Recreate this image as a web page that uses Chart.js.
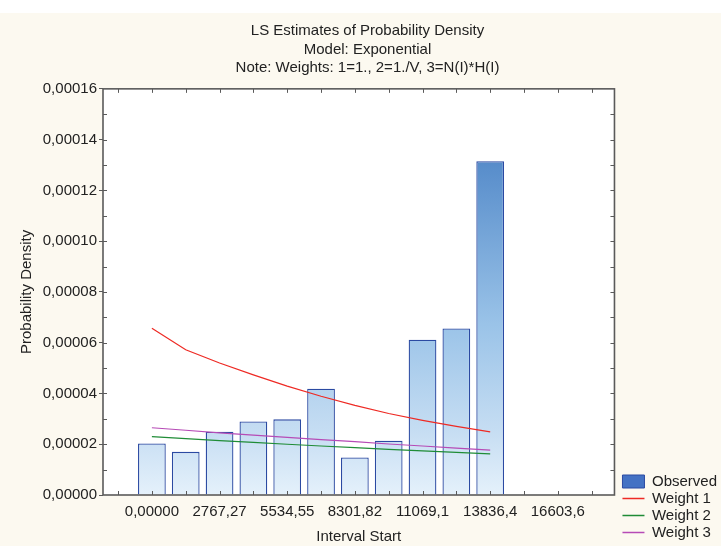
<!DOCTYPE html>
<html>
<head>
<meta charset="utf-8">
<script src="https://cdn.jsdelivr.net/npm/chart.js@4/dist/chart.umd.min.js"></script>
<style>
  html, body { margin: 0; padding: 0; background: #ffffff; }
  #wrap { width: 721px; height: 546px; }
</style>
</head>
<body>
<div id="wrap"><canvas id="c" width="721" height="546"></canvas></div>
<script>
// Interval starts (lower bound of each life-table interval)
const intervalStarts = [0, 1383.64, 2767.27, 4150.91, 5534.55, 6918.18, 8301.82, 9685.46, 11069.1, 12452.7, 13836.4];
// Observed probability density per interval
const observed = [2.03e-5, 1.70e-5, 2.49e-5, 2.90e-5, 2.98e-5, 4.19e-5, 1.48e-5, 2.14e-5, 6.12e-5, 6.56e-5, 1.315e-4];
// Least-squares exponential fits for the three weightings
const weight1 = [6.57e-5, 5.72e-5, 5.20e-5, 4.73e-5, 4.29e-5, 3.89e-5, 3.53e-5, 3.21e-5, 2.94e-5, 2.70e-5, 2.49e-5];
const weight2 = [2.30e-5, 2.22e-5, 2.14e-5, 2.07e-5, 2.00e-5, 1.93e-5, 1.87e-5, 1.80e-5, 1.74e-5, 1.68e-5, 1.62e-5];
const weight3 = [2.65e-5, 2.55e-5, 2.45e-5, 2.36e-5, 2.27e-5, 2.18e-5, 2.10e-5, 2.01e-5, 1.93e-5, 1.85e-5, 1.77e-5];

const seriesNames = ['Observed', 'Weight 1', 'Weight 2', 'Weight 3'];
const xTickValues = [0, 2767.27, 5534.55, 8301.82, 11069.1, 13836.4, 16603.6];
const xTickLabels = ['0,00000', '2767,27', '5534,55', '8301,82', '11069,1', '13836,4', '16603,6'];
const yTickLabels = ['0,00000', '0,00002', '0,00004', '0,00006', '0,00008', '0,00010', '0,00012', '0,00014', '0,00016'];
const titleLines = ['LS Estimates of Probability Density', 'Model: Exponential', 'Note: Weights: 1=1., 2=1./V, 3=N(I)*H(I)'];

const FONT = "'Liberation Sans', Arial, Helvetica, sans-serif";
const FS = 15;
const TEXT = '#222222';
const CREAM = '#fcf9f0';
const FRAME = '#5a5a5a';
const lineColors = ['#ee2a24', '#1f8c36', '#b64bb6'];

const binWidth = intervalStarts[1] - intervalStarts[0];
const pts = (ys) => ys.map((y, i) => ({ x: intervalStarts[i], y }));

let barGradient = null;
function barFill(ctx) {
  const chart = ctx.chart;
  const a = chart.chartArea;
  if (!a) return '#9cc1e6';
  if (!barGradient) {
    const g = chart.ctx.createLinearGradient(0, a.top, 0, a.bottom);
    g.addColorStop(0.0, '#3a68b2');
    g.addColorStop(0.2, '#5a8fcc');
    g.addColorStop(0.58, '#9ac3e8');
    g.addColorStop(0.85, '#c7def3');
    g.addColorStop(1.0, '#e5f1fb');
    barGradient = g;
  }
  return barGradient;
}

// Cream page with a white strip on top, white plotting area
const backdrop = {
  id: 'backdrop',
  beforeDraw(chart) {
    const { ctx, width, height, chartArea: a } = chart;
    ctx.save();
    ctx.fillStyle = CREAM;
    ctx.fillRect(0, 0, width, height);
    ctx.fillStyle = '#ffffff';
    ctx.fillRect(0, 0, width, 13);
    ctx.fillRect(a.left, a.top, a.right - a.left, a.bottom - a.top);
    ctx.restore();
  }
};

// Nudge the legend block a little right and up, leaving a gap beside the plot
const legendNudge = {
  id: 'legendNudge',
  afterLayout(chart) {
    const lg = chart.legend;
    if (!lg) return;
    lg.left += 6; lg.right += 6;
    lg.top -= 4; lg.bottom -= 4;
  }
};

// Box frame around the plot with short inward tick marks on every side
const frame = {
  id: 'frame',
  afterDraw(chart) {
    const { ctx, chartArea: a, scales } = chart;
    ctx.save();
    ctx.strokeStyle = FRAME;
    ctx.lineWidth = 1;
    ctx.beginPath();
    for (let k = -1; k <= 13; k++) {
      const px = Math.round(scales.x.getPixelForValue(k * binWidth)) + 0.5;
      if (px < a.left || px > a.right) continue;
      ctx.moveTo(px, a.top); ctx.lineTo(px, a.top + 4);
      ctx.moveTo(px, a.bottom); ctx.lineTo(px, a.bottom - 4);
    }
    for (let k = 1; k < 16; k++) {
      const py = Math.round(scales.y.getPixelForValue(k * 1e-5)) + 0.5;
      ctx.moveTo(a.left, py); ctx.lineTo(a.left + 4, py);
      ctx.moveTo(a.right, py); ctx.lineTo(a.right - 4, py);
    }
    ctx.stroke();
    ctx.lineWidth = 1.6;
    ctx.strokeRect(a.left, a.top, a.right - a.left, a.bottom - a.top);
    ctx.restore();
  }
};

new Chart(document.getElementById('c'), {
  type: 'bar',
  data: {
    datasets: [
      {
        label: seriesNames[0],
        data: pts(observed),
        backgroundColor: barFill,
        borderColor: '#2b4aa2',
        borderWidth: 1.3,
        barPercentage: 0.82,
        categoryPercentage: 1.0,
        order: 2
      },
      { type: 'line', label: seriesNames[1], data: pts(weight1), borderColor: lineColors[0], borderWidth: 1.2, pointRadius: 0, tension: 0, fill: false, order: 1 },
      { type: 'line', label: seriesNames[2], data: pts(weight2), borderColor: lineColors[1], borderWidth: 1.2, pointRadius: 0, tension: 0, fill: false, order: 1 },
      { type: 'line', label: seriesNames[3], data: pts(weight3), borderColor: lineColors[2], borderWidth: 1.2, pointRadius: 0, tension: 0, fill: false, order: 1 }
    ]
  },
  options: {
    responsive: false,
    animation: false,
    devicePixelRatio: 1,
    layout: { padding: { left: 14, right: 0, top: 0, bottom: 0 } },
    scales: {
      x: {
        type: 'linear',
        min: -2000,
        max: 18920,
        offset: false,
        grid: { display: false, drawTicks: false, offset: false },
        border: { display: false },
        afterBuildTicks(scale) {
          scale.ticks = xTickValues.map(v => ({ value: v }));
        },
        afterFit(scale) { scale.height = 51; },
        ticks: {
          autoSkip: false,
          maxRotation: 0,
          padding: 8,
          color: TEXT,
          font: { family: FONT, size: FS },
          callback: (v, i) => xTickLabels[i]
        },
        title: {
          display: true,
          text: 'Interval Start',
          color: TEXT,
          font: { family: FONT, size: FS },
          padding: { top: 0, bottom: 0 }
        }
      },
      y: {
        min: 0,
        max: 0.00016,
        grid: { display: true, drawOnChartArea: false, drawTicks: true, tickLength: 4, color: FRAME },
        border: { display: false },
        afterFit(scale) { scale.width = 89; },
        ticks: {
          stepSize: 0.00002,
          padding: 2,
          color: TEXT,
          font: { family: FONT, size: FS },
          callback: (v, i) => yTickLabels[i]
        },
        title: {
          display: true,
          text: 'Probability Density',
          color: TEXT,
          font: { family: FONT, size: FS },
          padding: { top: 4, bottom: 0 }
        }
      }
    },
    plugins: {
      title: {
        display: true,
        text: titleLines,
        color: TEXT,
        font: { family: FONT, size: FS, weight: 'normal', lineHeight: 1.23 },
        padding: { top: 21.75, bottom: 11.75 }
      },
      legend: {
        position: 'right',
        align: 'end',
        labels: {
          color: TEXT,
          font: { family: FONT, size: FS },
          usePointStyle: true,
          pointStyleWidth: 22,
          boxHeight: 13,
          padding: 2,
          generateLabels() {
            return seriesNames.map((name, i) => i === 0
              ? { text: name, datasetIndex: 0, pointStyle: 'rect', fillStyle: '#4472c4', strokeStyle: '#2b4aa2', lineWidth: 1, fontColor: TEXT }
              : { text: name, datasetIndex: i, pointStyle: 'line', fillStyle: lineColors[i - 1], strokeStyle: lineColors[i - 1], lineWidth: 1.5, fontColor: TEXT });
          }
        }
      },
      tooltip: { enabled: false }
    }
  },
  plugins: [backdrop, legendNudge, frame]
});
</script>
</body>
</html>
